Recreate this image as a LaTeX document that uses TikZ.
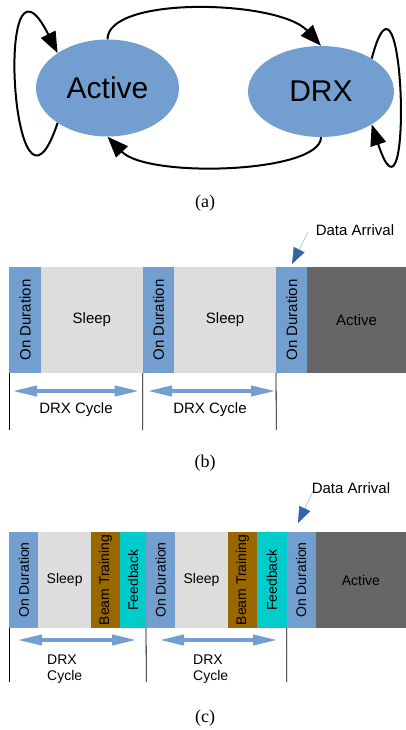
\documentclass[tikz,border=0pt]{standalone}
\usepackage{fontspec}
\usepackage{graphicx}
\setmainfont{Liberation Serif}
\newfontfamily\lsans{Liberation Sans}
\usetikzlibrary{shapes.geometric,arrows.meta}
\definecolor{lblue}{HTML}{729FCF}
\definecolor{sgray}{HTML}{DDDDDD}
\definecolor{dgray}{HTML}{666666}
\definecolor{bbrown}{HTML}{996600}
\definecolor{fcyan}{HTML}{00CCCC}
\definecolor{dblue}{HTML}{3465A4}
\definecolor{tblue}{HTML}{9DB9DA}
\newcommand\fontB{\lsans\fontsize{15}{18}\selectfont}
\newcommand\fontC{\lsans\fontsize{14}{15.5}\selectfont}
\begin{document}
\begin{tikzpicture}[x=1pt,y=-1pt,
  state/.style={ellipse, fill=lblue, inner sep=0pt, font=\lsans\fontsize{30}{36}\selectfont},
  trans/.style={line width=2pt, -{Triangle[length=21pt,width=16pt]}},
  cellb/.style={anchor=north west, inner sep=0pt, outer sep=0pt, minimum height=106pt, font=\fontB},
  cellc/.style={anchor=north west, inner sep=0pt, outer sep=0pt, minimum height=96pt, font=\fontC},
  ond/.style={fill=lblue},
  slp/.style={fill=sgray},
  actv/.style={fill=dgray},
  beam/.style={fill=bbrown},
  feed/.style={fill=fcyan},
  tick/.style={line width=0.8pt, black},
  dbl/.style={line width=4pt, lblue, {Triangle[length=25pt,width=10pt]}-{Triangle[length=25pt,width=10pt]}},
  arrival/.style={line width=0.6pt, tblue, -{Triangle[length=16pt,width=12pt,color=dblue]}},
  caption/.style={font=\fontsize{18}{21}\selectfont}
]
\useasboundingbox (0,0) rectangle (406,730);

% ---------- (a) ----------
\node[state, minimum width=143pt, minimum height=97pt] (act) at (107.5,88) {Active};
\node[state, minimum width=146pt, minimum height=91pt] (drx) at (321,91.5) {DRX};
\draw[trans] (act.north) .. controls +(0,-44) and +(-42,-46) .. (drx.north);
\draw[trans] (drx.south) .. controls +(0,36) and +(40,42) .. (act.south);
\draw[trans] (act.215) .. controls +(-45,135) and +(-65,-130) .. (act.145);
\draw[trans] (drx.33) .. controls +(33,-125) and +(42,128) .. (drx.-33);
\node[caption] (capa) at (205,203) {(a)};

% ---------- (b) ----------
\node[cellb, ond, minimum width=31.7pt] (b1) at (9.3,267) {\rotatebox{90}{On Duration}};
\node[cellb, slp, minimum width=101.7pt] (b2) at (b1.north east) {Sleep};
\node[cellb, ond, minimum width=31.6pt] (b3) at (b2.north east) {\rotatebox{90}{On Duration}};
\node[cellb, slp, minimum width=101.7pt] (b4) at (b3.north east) {Sleep};
\node[cellb, ond, minimum width=31.3pt] (b5) at (b4.north east) {\rotatebox{90}{On Duration}};
\node[cellb, actv, minimum width=98.7pt] (b6) at (b5.north east) {Active};

\coordinate (tb1) at (9.3,430);
\coordinate (tb2) at (142.7,430);
\coordinate (tb3) at (276.3,430);
\draw[tick] (b1.south west) -- (tb1);
\draw[tick] (b3.south west) -- (tb2);
\draw[tick] (b5.south west) -- (tb3);

\coordinate (ab1l) at (12,391);
\coordinate (ab1r) at (139.7,391);
\coordinate (ab2l) at (147,391);
\coordinate (ab2r) at (276,391);
\draw[dbl] (ab1l) -- (ab1r);
\draw[dbl] (ab2l) -- (ab2r);
\node[font=\fontB] (cyb1) at (76,410) {DRX Cycle};
\node[font=\fontB] (cyb2) at (210,410) {DRX Cycle};

\node[font=\fontB, inner sep=0pt] (da1) at (355,230) {Data Arrival};
\coordinate (da1s) at (308,232);
\coordinate (da1t) at (292,264);
\draw[arrival] (da1s) -- (da1t);
\node[caption] (capb) at (205,463) {(b)};

% ---------- (c) ----------
\node[cellc, ond, minimum width=29pt] (c1) at (9.3,532) {\rotatebox{90}{On Duration}};
\node[cellc, slp, minimum width=52.7pt] (c2) at (c1.north east) {Sleep};
\node[cellc, beam, minimum width=29pt] (c3) at (c2.north east) {\rotatebox{90}{Beam Training}};
\node[cellc, feed, minimum width=26pt] (c4) at (c3.north east) {\rotatebox{90}{Feedback}};
\node[cellc, ond, minimum width=29pt] (c5) at (c4.north east) {\rotatebox{90}{On Duration}};
\node[cellc, slp, minimum width=53pt] (c6) at (c5.north east) {Sleep};
\node[cellc, beam, minimum width=29pt] (c7) at (c6.north east) {\rotatebox{90}{Beam Training}};
\node[cellc, feed, minimum width=29.7pt] (c8) at (c7.north east) {\rotatebox{90}{Feedback}};
\node[cellc, ond, minimum width=29pt] (c9) at (c8.north east) {\rotatebox{90}{On Duration}};
\node[cellc, actv, minimum width=90.3pt] (c10) at (c9.north east) {Active};

\coordinate (tc1) at (9.3,682);
\coordinate (tc2) at (146.3,682);
\coordinate (tc3) at (286.7,682);
\draw[tick] (c1.south west) -- (tc1);
\draw[tick] (c5.south west) -- (tc2);
\draw[tick] (c9.south west) -- (tc3);

\coordinate (ac1l) at (17,640);
\coordinate (ac1r) at (137,640);
\coordinate (ac2l) at (159,640);
\coordinate (ac2r) at (278,640);
\draw[dbl] (ac1l) -- (ac1r);
\draw[dbl] (ac2l) -- (ac2r);
\node[font=\fontC, align=left, anchor=west, inner sep=0pt] (cyc1) at (47,669) {DRX\\Cycle};
\node[font=\fontC, align=left, anchor=west, inner sep=0pt] (cyc2) at (193,669) {DRX\\Cycle};

\node[font=\fontB, inner sep=0pt] (da2) at (351,488) {Data Arrival};
\coordinate (da2s) at (313,491);
\coordinate (da2t) at (298,523);
\draw[arrival] (da2s) -- (da2t);
\node[caption] (capc) at (205,718) {(c)};
\end{tikzpicture}
\end{document}
